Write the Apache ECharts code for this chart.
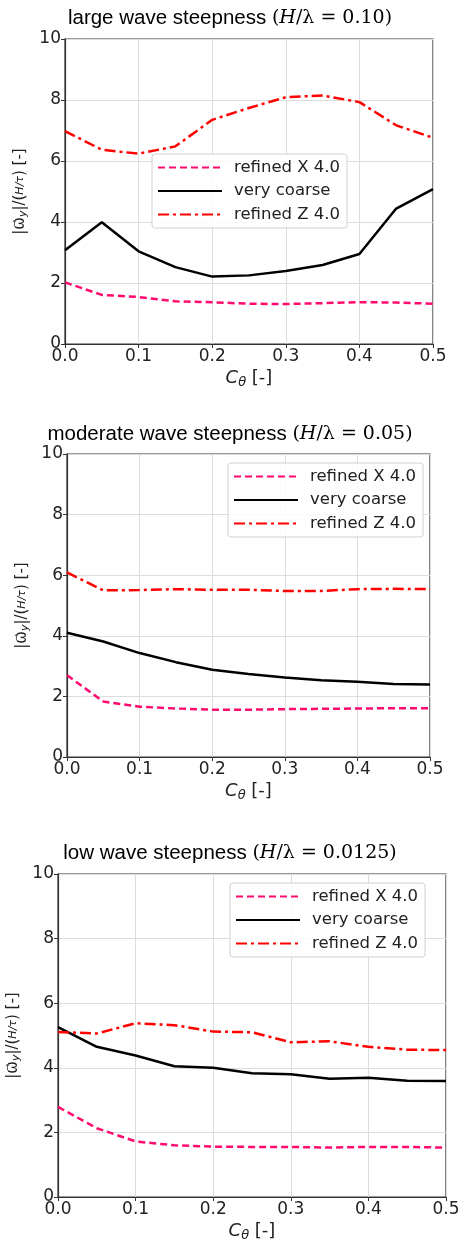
<!DOCTYPE html>
<html><head><meta charset="utf-8">
<script src="https://cdn.jsdelivr.net/npm/echarts@6/dist/echarts.min.js"></script>
<style>html,body{margin:0;padding:0;background:#fff}#c{width:460px;height:1240px}</style>
</head><body><div id="c"></div>
<script>
const cTheta = [0.0, 0.05, 0.1, 0.15, 0.2, 0.25, 0.3, 0.35, 0.4, 0.45, 0.5];
const seriesNames = ['refined X 4.0', 'very coarse', 'refined Z 4.0'];
const xTicks = [0.0, 0.1, 0.2, 0.3, 0.4, 0.5];
const yTicks = [0, 2, 4, 6, 8, 10];

const titleTexts = ['large wave steepness ', 'moderate wave steepness ', 'low wave steepness '];
const titleRatios = ['0.10', '0.05', '0.0125'];

const largeRefX   = [2.02, 1.61, 1.54, 1.40, 1.37, 1.32, 1.31, 1.34, 1.37, 1.36, 1.32];
const largeCoarse = [3.07, 3.99, 3.04, 2.52, 2.21, 2.25, 2.39, 2.59, 2.95, 4.44, 5.08];
const largeRefZ   = [6.98, 6.37, 6.24, 6.48, 7.35, 7.74, 8.09, 8.15, 7.93, 7.17, 6.76];

const modRefX   = [2.70, 1.83, 1.66, 1.60, 1.56, 1.56, 1.58, 1.59, 1.60, 1.61, 1.61];
const modCoarse = [4.10, 3.81, 3.43, 3.13, 2.88, 2.74, 2.62, 2.53, 2.48, 2.41, 2.39];
const modRefZ   = [6.09, 5.50, 5.51, 5.54, 5.52, 5.52, 5.48, 5.48, 5.54, 5.55, 5.54];

const lowRefX   = [2.79, 2.13, 1.72, 1.60, 1.56, 1.55, 1.55, 1.53, 1.55, 1.55, 1.53];
const lowCoarse = [5.26, 4.65, 4.38, 4.05, 4.00, 3.83, 3.80, 3.66, 3.69, 3.60, 3.59];
const lowRefZ   = [5.11, 5.06, 5.38, 5.32, 5.12, 5.10, 4.79, 4.82, 4.65, 4.56, 4.55];

const panels = [
  {refX: largeRefX, coarse: largeCoarse, refZ: largeRefZ,
   grid: {left: 65, right: 27, top: 39, height: 305}, titleTop: 3,
   legend: {left: 152, top: 154}},
  {refX: modRefX, coarse: modCoarse, refZ: modRefZ,
   grid: {left: 67, right: 30, top: 454, height: 303}, titleTop: 419,
   legend: {left: 228, top: 463}},
  {refX: lowRefX, coarse: lowCoarse, refZ: lowRefZ,
   grid: {left: 58, right: 14, top: 874, height: 323}, titleTop: 838,
   legend: {left: 230, top: 883}}
];

const PINK = '#ff0a6e', RED = '#ff0000', BLACK = '#000000';
const sans = 'DejaVu Sans';

const option = {
  animation: false,
  backgroundColor: '#fff',
  title: [], grid: [], xAxis: [], yAxis: [], series: [], legend: []
};

panels.forEach((p, i) => {
  option.title.push({
    text: '{t|' + titleTexts[i] + '}{m|(}{i|H}{m|/λ = ' + titleRatios[i] + ')}',
    left: 'center', top: p.titleTop,
    textStyle: {
      fontWeight: 'normal',
      rich: {
        t: {fontFamily: 'Liberation Sans', fontSize: 20.5, fontWeight: 'normal', color: '#000'},
        m: {fontFamily: 'DejaVu Serif', fontSize: 19, fontWeight: 'normal', color: '#000'},
        i: {fontFamily: 'DejaVu Serif', fontSize: 19, fontWeight: 'normal', fontStyle: 'italic', color: '#000'}
      }
    }
  });
  option.grid.push(Object.assign({show: true, borderColor: '#333', borderWidth: 1.2,
    backgroundColor: 'transparent', containLabel: false, outerBoundsMode: 'none'}, p.grid));
  option.xAxis.push({
    type: 'value', gridIndex: i, min: 0, max: 0.5, interval: 0.1,
    name: '{c|C}{s|θ}{n| [-]}', nameLocation: 'middle', nameGap: 23,
    nameTextStyle: {rich: {
      c: {fontFamily: sans, fontSize: 18, fontStyle: 'italic', color: '#222'},
      s: {fontFamily: sans, fontSize: 13, fontStyle: 'italic', color: '#222', verticalAlign: 'bottom', padding: [9, 0, 0, 0]},
      n: {fontFamily: sans, fontSize: 18, color: '#222'}
    }},
    axisLine: {show: true, onZero: false, lineStyle: {color: '#333', width: 1.2}},
    axisTick: {show: true, inside: false, length: 4, lineStyle: {color: '#333'}},
    axisLabel: {fontFamily: sans, fontSize: 17, color: '#222', margin: 4,
      formatter: v => v.toFixed(1)},
    splitLine: {show: true, lineStyle: {color: '#dcdcdc', width: 1}}
  });
  option.yAxis.push({
    type: 'value', gridIndex: i, min: 0, max: 10, interval: 2,
    name: '|ω⃗{s|y}|/({f|H/τ}) [-]', nameLocation: 'middle', nameGap: 30, nameRotate: 90,
    nameTextStyle: {fontFamily: sans, fontSize: 15, color: '#222', rich: {
      s: {fontFamily: sans, fontSize: 11, fontStyle: 'italic', color: '#222', verticalAlign: 'bottom', padding: [6, 0, 0, 0]},
      f: {fontFamily: sans, fontSize: 11, fontStyle: 'italic', color: '#222'}
    }},
    axisLine: {show: true, lineStyle: {color: '#333', width: 1.2}},
    axisTick: {show: true, inside: false, length: 4, lineStyle: {color: '#333'}},
    axisLabel: {fontFamily: sans, fontSize: 17, color: '#222', margin: 4},
    splitLine: {show: true, lineStyle: {color: '#dcdcdc', width: 1}}
  });
  const mk = (name, vals, color, type, z) => ({
    name, type: 'line', xAxisIndex: i, yAxisIndex: i, z,
    data: cTheta.map((x, k) => [x, vals[k]]),
    symbol: 'none', smooth: false,
    lineStyle: {color, width: 2.5, type},
    itemStyle: {color}
  });
  option.series.push(mk(seriesNames[0], p.refX, PINK, [7, 4], 3));
  option.series.push(mk(seriesNames[1], p.coarse, BLACK, 'solid', 2));
  option.series.push(mk(seriesNames[2], p.refZ, RED, [11, 4, 3, 4], 4));
  option.legend.push({
    data: seriesNames, orient: 'vertical', left: p.legend.left, top: p.legend.top,
    itemWidth: 64, itemHeight: 12, itemGap: 6.5,
    itemStyle: {opacity: 0},
    backgroundColor: 'rgba(255,255,255,0.85)', borderColor: '#d0d0d0', borderWidth: 1, borderRadius: 3,
    padding: [5, 7, 5, 5],
    textStyle: {fontFamily: sans, fontSize: 16.5, color: '#222', padding: [0, 0, 0, 7]},
    selectedMode: false
  });
});

const chart = echarts.init(document.getElementById('c'), null, {renderer: 'canvas'});
chart.setOption(option);
</script>
</body></html>
